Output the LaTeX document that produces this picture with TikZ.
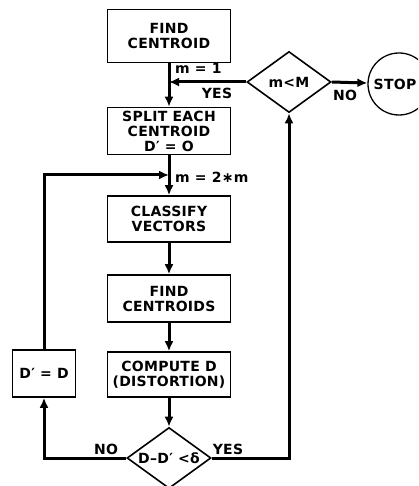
\documentclass[tikz,border=0pt]{standalone}
\usepackage{fontspec}
\newfontfamily\chartfont{DejaVu Sans}[LetterSpace=2]
\usetikzlibrary{arrows.meta,shapes.geometric}
\tikzset{
  box/.style={rectangle, draw, line width=1.6pt, minimum width=123pt, minimum height=47pt, inner sep=1pt, align=center},
  decision/.style={diamond, draw, line width=1.6pt, inner sep=0pt, aspect=1.37, minimum width=84pt, minimum height=61pt},
  term/.style={circle, draw, line width=1.3pt, minimum size=62pt, inner sep=0pt},
  lbl/.style={inner sep=0pt},
  flow/.style={line width=3pt, -{Latex[length=10pt,width=9pt]}},
  every node/.style={font=\chartfont\bfseries\fontsize{14}{15}\selectfont},
  every picture/.style={line cap=butt, line join=miter}
}

\begin{document}
\begin{tikzpicture}[x=1pt,y=-1pt]
    \useasboundingbox (0,0) rectangle (418,486);
    \clip (0,0) rectangle (418,486);

    \node[box, minimum height=53pt] (find) at (169,36) {FIND\\CENTROID};
    \node[box] (split) at (169,131) {SPLIT EACH\\CENTROID\\D′ = O};
    \node[box, minimum height=46pt] (classify) at (169,219) {CLASSIFY\\VECTORS};
    \node[box] (cents) at (169,298.5) {FIND\\CENTROIDS};
    \node[box, minimum height=45pt] (dist) at (169,374.5) {COMPUTE D\\(DISTORTION)};
    \node[box, minimum width=63pt] (upd) at (44,373.5) {D′ = D};
    \node[decision] (test) at (169,458) {D–D′ <δ};
    \node[decision] (iter) at (289,82) {m<M};
    \node[term] (stop) at (399,84) {};
    \node[lbl] (stoptext) at (395,84) {STOP};

    \coordinate (j1) at (169,82);
    \coordinate (j2) at (169,175);

    \node[lbl, anchor=west] (m1) at (175,68) {m = 1};
    \node[lbl] (yes1) at (217,93) {YES};
    \node[lbl] (no1) at (345,95) {NO};
    \node[lbl, anchor=west] (m2) at (175,177) {m = 2∗m};
    \node[lbl] (no2) at (106,449) {NO};
    \node[lbl] (yes2) at (228,449) {YES};

    \draw[flow] (find)--(split);
    \draw[flow] (split)--(classify);
    \draw[flow] (classify)--(cents);
    \draw[flow] (cents)--(dist);
    \draw[flow] (dist)--(test);

    \draw[flow] (iter.west)--(j1);
    \draw[flow] (iter.east)--(stop);

    \draw[flow] (test.west) -| (upd.south);
    \draw[flow] (upd.north) |- (j2);
    \draw[flow] (test.east) -| (iter.south);
  \end{tikzpicture}
\end{document}
